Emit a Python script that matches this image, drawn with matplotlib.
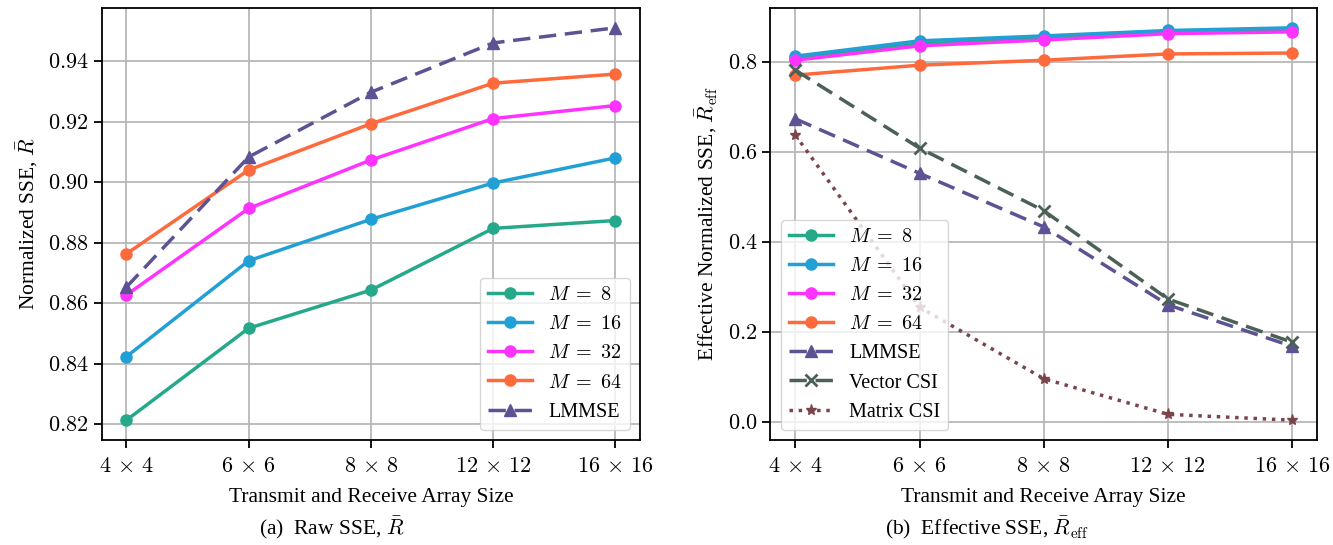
import numpy as np
import matplotlib
matplotlib.use('Agg')
import matplotlib.pyplot as plt

plt.rcParams['font.family'] = ['Liberation Serif', 'DejaVu Serif']
plt.rcParams['mathtext.fontset'] = 'cm'
plt.rcParams['font.size'] = 15

sizes = [r'$4\,\times\,4$', r'$6\,\times\,6$', r'$8\,\times\,8$', r'$12\,\times\,12$', r'$16\,\times\,16$']

# raw SSE (left panel)
raw_m8 = [0.8213, 0.8517, 0.8643, 0.8847, 0.8873]
raw_m16 = [0.8423, 0.8740, 0.8877, 0.8997, 0.9080]
raw_m32 = [0.8627, 0.8913, 0.9073, 0.9210, 0.9253]
raw_m64 = [0.8763, 0.9040, 0.9193, 0.9327, 0.9357]
raw_lmmse = [0.8653, 0.9083, 0.9297, 0.9460, 0.9510]

# effective SSE (right panel)
eff_m8 = [0.810, 0.840, 0.853, 0.866, 0.872]
eff_m16 = [0.813, 0.847, 0.858, 0.870, 0.876]
eff_m32 = [0.804, 0.836, 0.849, 0.863, 0.867]
eff_m64 = [0.771, 0.793, 0.804, 0.818, 0.820]
eff_lmmse = [0.674, 0.553, 0.434, 0.261, 0.169]
eff_vector = [0.782, 0.609, 0.470, 0.274, 0.178]
eff_matrix = [0.638, 0.256, 0.097, 0.018, 0.005]

c8 = '#25a98a'
c16 = '#22a0d6'
c32 = '#ff33ff'
c64 = '#ff6a3d'
c_lm = '#5c5394'
c_vec = '#4b6158'
c_mat = '#7b444b'

x = np.arange(len(sizes))

fig = plt.figure(figsize=(13.33, 5.45), dpi=100)
ax1 = fig.add_axes([0.0765, 0.193, 0.4035, 0.792])
ax2 = fig.add_axes([0.578, 0.193, 0.410, 0.792])

lw = 2.5
ms = 8

def style_ax(ax):
    ax.grid(True, color='#b8b8b8', linewidth=1.3)
    ax.set_axisbelow(True)
    for s in ax.spines.values():
        s.set_linewidth(1.3)
    ax.set_xticks(x)
    ax.set_xticklabels(sizes)
    ax.tick_params(labelsize=16, length=6, width=1.3)
    ax.tick_params(axis='x', pad=7)
    ax.set_xlabel('Transmit and Receive Array Size', fontsize=15.5, labelpad=8)

ax1.plot(x, raw_m8, '-o', color=c8, lw=lw, ms=ms, label=r'$M\;=\;8$')
ax1.plot(x, raw_m16, '-o', color=c16, lw=lw, ms=ms, label=r'$M\;=\;16$')
ax1.plot(x, raw_m32, '-o', color=c32, lw=lw, ms=ms, label=r'$M\;=\;32$')
ax1.plot(x, raw_m64, '-o', color=c64, lw=lw, ms=ms, label=r'$M\;=\;64$')
ax1.plot(x, raw_lmmse, '--^', color=c_lm, lw=lw, ms=ms, dashes=(5, 2.5), label='LMMSE')
style_ax(ax1)
ax1.set_yticks([0.82, 0.84, 0.86, 0.88, 0.90, 0.92, 0.94])
ax1.set_yticklabels([r'$0.82$', r'$0.84$', r'$0.86$', r'$0.88$', r'$0.90$', r'$0.92$', r'$0.94$'])
ax1.set_ylabel(r'Normalized SSE, $\bar{R}$', fontsize=15.5, labelpad=6)
ax1.legend(loc='lower right', fontsize=14.5, framealpha=0.8, handlelength=2.2)

ax2.plot(x, eff_m8, '-o', color=c8, lw=lw, ms=ms, label=r'$M\;=\;8$')
ax2.plot(x, eff_m16, '-o', color=c16, lw=lw, ms=ms, label=r'$M\;=\;16$')
ax2.plot(x, eff_m32, '-o', color=c32, lw=lw, ms=ms, label=r'$M\;=\;32$')
ax2.plot(x, eff_m64, '-o', color=c64, lw=lw, ms=ms, label=r'$M\;=\;64$')
ax2.plot(x, eff_lmmse, '--^', color=c_lm, lw=lw, ms=ms, dashes=(5, 2.5), label='LMMSE')
ax2.plot(x, eff_vector, '--x', color=c_vec, lw=lw, ms=ms, mew=2, dashes=(5, 2.5), label='Vector CSI')
ax2.plot(x, eff_matrix, ':*', color=c_mat, lw=lw, ms=ms, label='Matrix CSI')
style_ax(ax2)
ax2.set_yticks([0.0, 0.2, 0.4, 0.6, 0.8])
ax2.set_yticklabels([r'$0.0$', r'$0.2$', r'$0.4$', r'$0.6$', r'$0.8$'])
ax2.set_ylabel(r'Effective Normalized SSE, $\bar{R}_{\mathrm{eff}}$', fontsize=15.5, labelpad=6)
ax2.legend(loc='lower left', fontsize=14.5, framealpha=0.8, handlelength=2.2)

fig.text(0.249, 0.02, r'(a)  Raw SSE, $\bar{R}$', ha='center', fontsize=15.5)
fig.text(0.740, 0.02, r'(b)  Effective SSE, $\bar{R}_{\mathrm{eff}}$', ha='center', fontsize=15.5)

fig.savefig('out.png', dpi=100)
